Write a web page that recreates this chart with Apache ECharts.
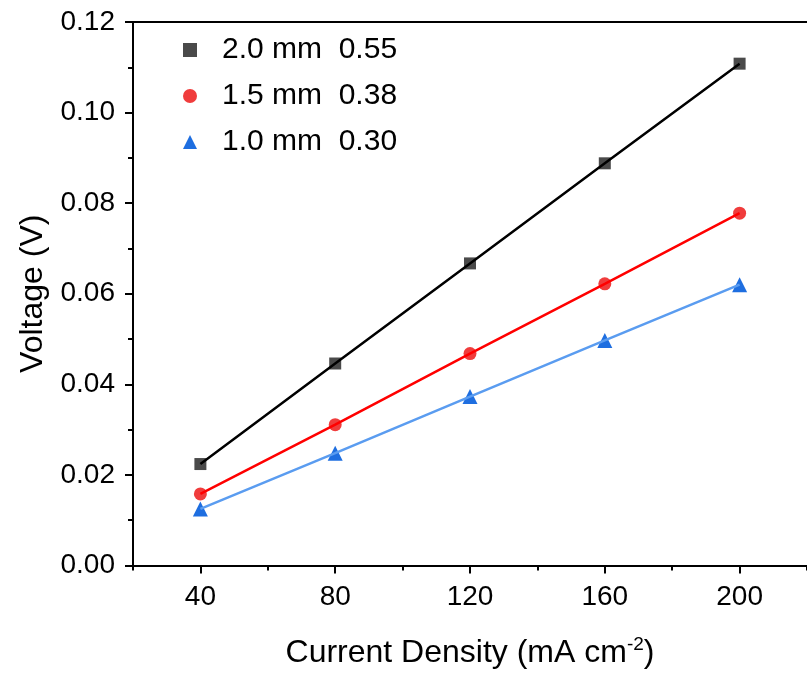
<!DOCTYPE html>
<html>
<head>
<meta charset="utf-8">
<script src="https://cdn.jsdelivr.net/npm/echarts@6/dist/echarts.min.js"></script>
<style>html,body{margin:0;padding:0;background:#fff}#c{width:807px;height:674px}</style>
</head>
<body>
<div id="c"></div>
<script>
var xValues = [40, 80, 120, 160, 200];
var y20 = [0.0224, 0.0446, 0.0667, 0.0888, 0.1108];
var y15 = [0.0158, 0.0311, 0.0468, 0.0622, 0.0778];
var y10 = [0.0125, 0.0248, 0.0373, 0.0497, 0.0620];
var names = ['2.0 mm  0.55', '1.5 mm  0.38', '1.0 mm  0.30'];
var xMajor = [40, 80, 120, 160, 200];

function pts(ys){ return xValues.map(function(x,i){ return [x, ys[i]]; }); }

var font = '"Liberation Sans", Arial, sans-serif';
var chart = echarts.init(document.getElementById('c'), null, {renderer:'canvas'});
var axisLine = {show:true, lineStyle:{color:'#000', width:2}};
chart.setOption({
  animation:false,
  grid:{left:133, top:22, width:678, height:546},
  legend:{
    data:names, orient:'vertical', left:178, top:30, itemGap:16,
    itemWidth:14, itemHeight:14,
    textStyle:{fontFamily:font, fontSize:30, color:'#000', padding:[0,0,0,20]}
  },
  xAxis:[
    {type:'value', min:20, max:220, position:'bottom', axisLine:axisLine,
     axisTick:{show:false},
     axisLabel:{customValues:xMajor, fontFamily:font, fontSize:28, color:'#000', margin:18},
     splitLine:{show:false},
     name:'{a|Current Density (mA cm}{s|-2}{a|)}', nameLocation:'middle', nameGap:70,
     nameTextStyle:{fontFamily:font, color:'#000', rich:{a:{fontFamily:font,fontSize:32,color:'#000'}, s:{fontFamily:font,fontSize:19,color:'#000',padding:[0,0,16,0]}}}
    },
    {type:'value', min:20, max:220, interval:40, position:'bottom', axisLine:{show:false},
     axisTick:{show:true, length:5, lineStyle:{width:2,color:'#000'}},
     minorTick:{show:true, splitNumber:2, length:8, lineStyle:{width:2,color:'#000'}},
     axisLabel:{show:false}, splitLine:{show:false}
    },
    {type:'value', min:20, max:220, position:'top', axisLine:axisLine,
     axisTick:{show:false}, axisLabel:{show:false}, splitLine:{show:false}}
  ],
  yAxis:[
    {type:'value', min:0, max:0.12, interval:0.02, position:'left', axisLine:axisLine,
     axisTick:{show:true, length:8, lineStyle:{width:2,color:'#000'}},
     minorTick:{show:true, splitNumber:2, length:5, lineStyle:{width:2,color:'#000'}},
     axisLabel:{fontFamily:font, fontSize:28, color:'#000', margin:18, formatter:function(v){return v.toFixed(2);}},
     splitLine:{show:false},
     name:'Voltage (V)', nameLocation:'middle', nameGap:84,
     nameTextStyle:{fontFamily:font, fontSize:32, color:'#000'}
    }
  ],
  series:[
    {name:names[0], type:'scatter', data:pts(y20), symbol:'rect', symbolSize:12, itemStyle:{color:'#4a4a4a', opacity:1}, z:2},
    {name:names[1], type:'scatter', data:pts(y15), symbol:'circle', symbolSize:13, itemStyle:{color:'#f03c3c', opacity:1}, z:2},
    {name:names[2], type:'scatter', data:pts(y10), symbol:'triangle', symbolSize:15, itemStyle:{color:'#1e6ee0', opacity:1}, z:2},
    {type:'line', data:pts(y20), showSymbol:false, symbol:'none', lineStyle:{color:'#000', width:2.5}, z:3, silent:true},
    {type:'line', data:pts(y15), showSymbol:false, symbol:'none', lineStyle:{color:'#ff0000', width:2.5}, z:3, silent:true},
    {type:'line', data:pts(y10), showSymbol:false, symbol:'none', lineStyle:{color:'#5a9cf0', width:2.5}, z:3, silent:true}
  ]
});
</script>
</body>
</html>
